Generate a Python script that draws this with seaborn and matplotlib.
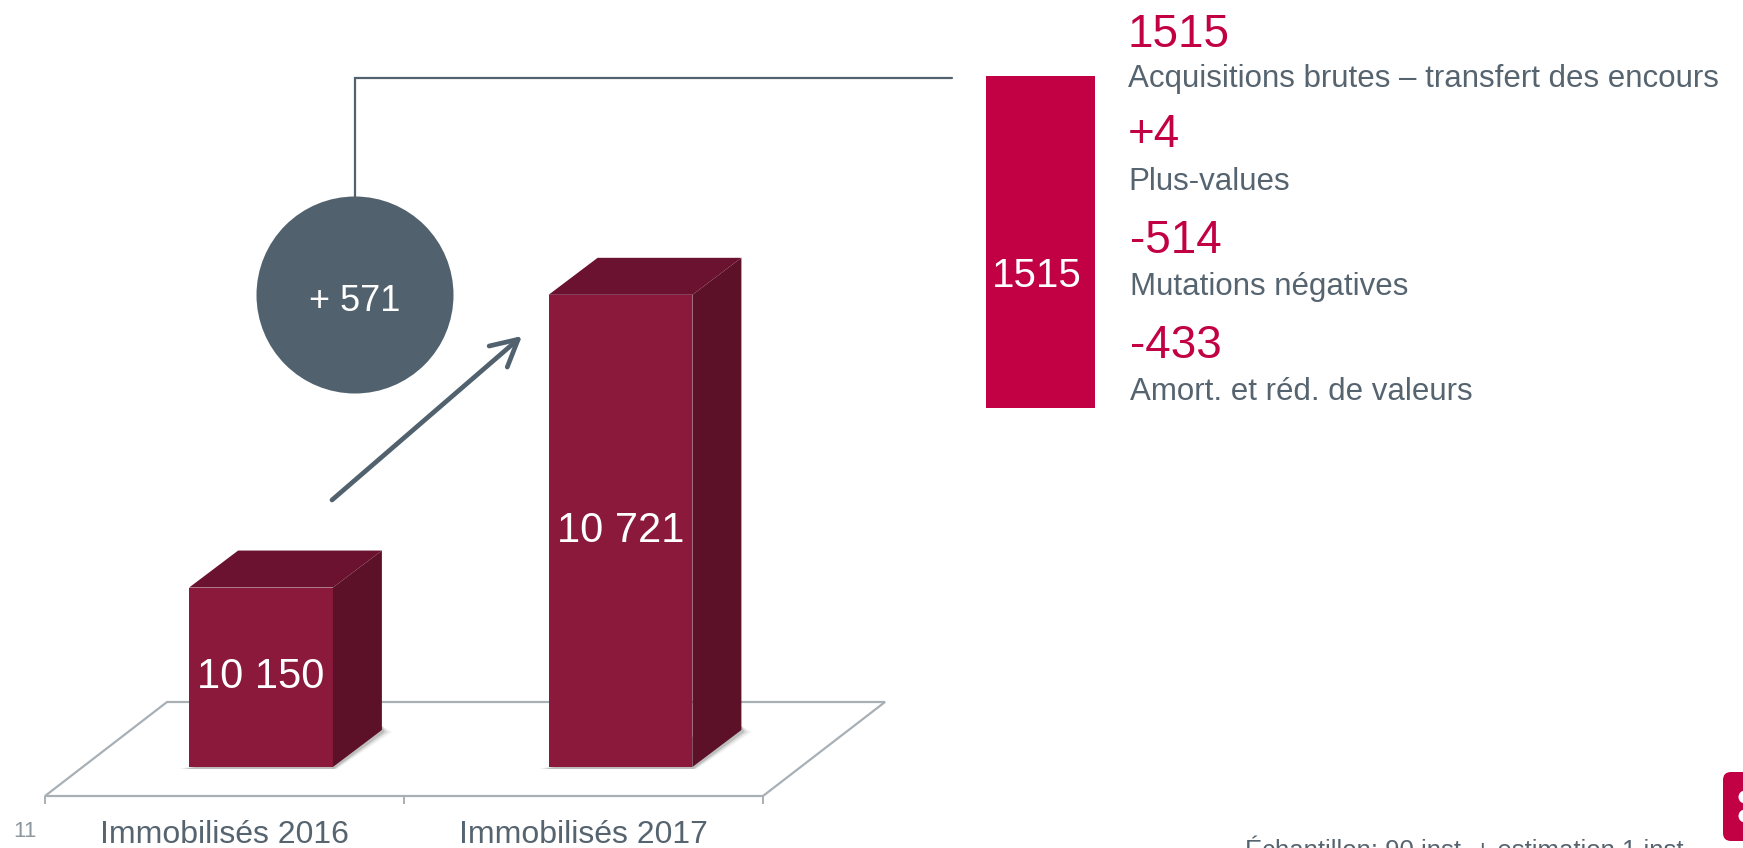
import matplotlib

matplotlib.use("Agg")
import matplotlib.pyplot as plt
import seaborn as sns
from matplotlib.patches import Circle, FancyBboxPatch, Polygon

categories = ["Immobilisés 2016", "Immobilisés 2017"]
totals = [10150, 10721]
variation = 571
acquisitions = 1515
components = [1515, 4, -514, -433]
component_labels = [
    "Acquisitions brutes – transfert des encours",
    "Plus-values",
    "Mutations négatives",
    "Amort. et réd. de valeurs",
]
page_number = "11"
footnote = "Échantillon: 90 inst. + estimation 1 inst."

W, H, DPI = 1743, 848, 100
Y_RANGE = (9800, 11218)
DEPTH = (49, -37)  # 3d offset of the bar tops, pixels

BAR_FRONT = "#8b193c"
BAR_TOP = "#6b1230"
BAR_SIDE = "#5c1128"
CRIMSON = "#c20044"
SLATE = "#51626e"
TEXT_GRAY = "#566470"
FLOOR = "#a8b0b6"


def px_rect(x0, y0, x1, y1):
    return [x0 / W, 1 - y1 / H, (x1 - x0) / W, (y1 - y0) / H]


def thousands(value):
    return f"{value:,}".replace(",", " ")


def signed(index, value):
    return f"{value}" if index == 0 else f"{value:+d}"


sns.set_theme(style="white")
plt.rcParams["font.family"] = ["Liberation Sans", "DejaVu Sans"]

fig = plt.figure(figsize=(W / DPI, H / DPI), dpi=DPI)

# floor of the 3d chart, with the category axis
floor = fig.add_axes(px_rect(45, 702, 763, 796), zorder=0)
floor.set_xlim(-0.5, len(categories) - 0.5)
floor.set_ylim(0, 1)
shift = (167 - 45) / 359
floor.add_patch(
    Polygon(
        [(-0.5, 0), (len(categories) - 0.5, 0), (len(categories) - 0.5 + shift, 1), (-0.5 + shift, 1)],
        closed=True,
        facecolor="white",
        edgecolor=FLOOR,
        linewidth=1.6,
        clip_on=False,
    )
)
floor.set_xticks(range(len(categories)), categories)
floor.set_xticks([i - 0.5 for i in range(len(categories) + 1)], minor=True)
floor.tick_params(axis="x", which="major", length=0, pad=17, labelsize=23, labelcolor=TEXT_GRAY)
floor.tick_params(axis="x", which="minor", length=5.8, width=1.4, color=FLOOR, direction="out", bottom=True)
floor.set_yticks([])
for spine in floor.spines.values():
    spine.set_visible(False)
floor.patch.set_alpha(0)

# the two yearly totals
ax = fig.add_axes(px_rect(81.25, 40, 800.25, 767), zorder=2)
sns.barplot(x=categories, y=totals, ax=ax, color=BAR_FRONT, width=0.4, saturation=1,
            linewidth=0, edgecolor="none")
ax.set_ylim(*Y_RANGE)
ax.set_xlim(-0.5, len(categories) - 0.5)
ax.axis("off")

# pixel-unit layers: one under the bars (shadows), one above (3d faces, notes)
under = fig.add_axes([0, 0, 1, 1], zorder=1)
over = fig.add_axes([0, 0, 1, 1], zorder=3)
for layer in (under, over):
    layer.set_xlim(0, W)
    layer.set_ylim(H, 0)
    layer.axis("off")

to_over = over.transData.inverted()
dx, dy = DEPTH
for patch, value in zip(ax.patches, totals):
    x0 = patch.get_x()
    x1 = x0 + patch.get_width()
    (px0, top), (px1, base) = to_over.transform(
        ax.transData.transform([(x0, value), (x1, Y_RANGE[0])])
    )
    for grow, alpha in ((10, 0.08), (6, 0.12), (3, 0.18)):
        under.add_patch(
            Polygon([(px0 - grow, base + 2), (px1 + grow * 0.4, base + 2),
                     (px1 + dx + grow, base + dy + 2), (px1 + dx, base + dy - 4)],
                    closed=True, facecolor="#404040", edgecolor="none", alpha=alpha)
        )
    over.add_patch(
        Polygon([(px0, top), (px1, top), (px1 + dx, top + dy), (px0 + dx, top + dy)],
                closed=True, facecolor=BAR_TOP, edgecolor="none")
    )
    over.add_patch(
        Polygon([(px1, top), (px1 + dx, top + dy), (px1 + dx, base + dy), (px1, base)],
                closed=True, facecolor=BAR_SIDE, edgecolor="none")
    )
    ax.text(
        x0 + patch.get_width() / 2,
        (value + Y_RANGE[0]) / 2,
        thousands(value),
        ha="center",
        va="center",
        color="white",
        fontsize=30,
    )

# growth bubble, arrow and connector
cx, cy, radius = 355, 295, 98.5
over.add_patch(Circle((cx, cy), radius, facecolor=SLATE, edgecolor="none"))
over.text(cx, 311, f"+ {variation}", ha="center", va="baseline", color="white", fontsize=26)
over.plot([cx, cx, 952], [cy - radius, 78, 78], color=SLATE, linewidth=1.6, solid_joinstyle="miter")
over.annotate(
    "",
    xy=(522, 336),
    xytext=(332, 500),
    arrowprops=dict(
        arrowstyle="->,head_length=0.95,head_width=0.5",
        mutation_scale=20,
        color=SLATE,
        linewidth=3.4,
        shrinkA=0,
        shrinkB=0,
    ),
)

# gross acquisitions bar
side = fig.add_axes(px_rect(986, 76, 1095, 408), zorder=2)
sns.barplot(x=["total"], y=[acquisitions], ax=side, color=CRIMSON, width=1, saturation=1,
            linewidth=0, edgecolor="none")
side.set_xlim(-0.5, 0.5)
side.set_ylim(0, acquisitions)
side.axis("off")
side.text(0.47, 0.364, str(acquisitions), transform=side.transAxes, ha="center",
          va="baseline", color="white", fontsize=29)

value_baselines = [47, 147, 253, 358]
label_baselines = [87, 190, 295, 400]
for i, (value, label) in enumerate(zip(components, component_labels)):
    x = 1128 if i < 2 else 1130
    over.text(x, value_baselines[i], signed(i, value), color=CRIMSON, fontsize=33, va="baseline")
    over.text(x, label_baselines[i], label, color=TEXT_GRAY, fontsize=22.5, va="baseline")

# page furniture
over.text(25, 837, page_number, ha="center", va="baseline", color="#8c979f", fontsize=16)
over.text(1245, 858, footnote, va="baseline", color=TEXT_GRAY, fontsize=18.5)
over.add_patch(
    FancyBboxPatch((1723, 772), 40, 69, boxstyle="round,pad=0,rounding_size=8",
                   facecolor=CRIMSON, edgecolor="none")
)
for y in (797, 816):
    over.add_patch(Circle((1745, y), 6.5, facecolor="white", edgecolor="none"))

fig.savefig("out.png", dpi=DPI)
